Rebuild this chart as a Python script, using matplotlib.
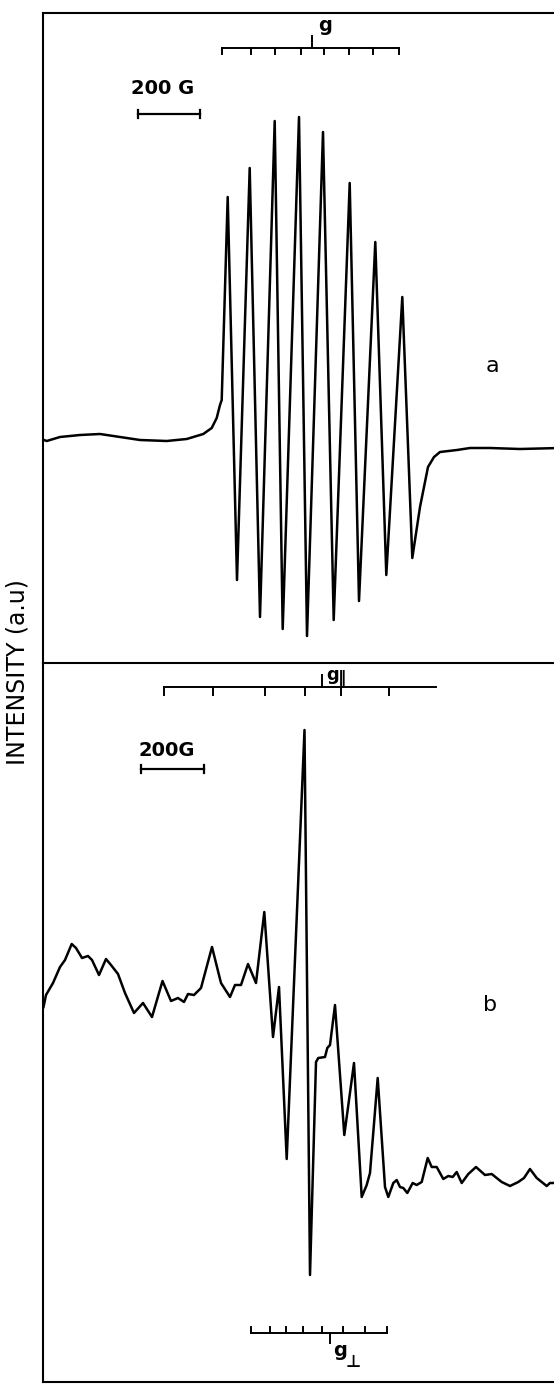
import numpy as np
import matplotlib
matplotlib.use('Agg')
import matplotlib.pyplot as plt

# ESR spectra, field in arbitrary units, intensity in a.u.
field_a = [44, 46.7, 60, 80, 100, 120, 140, 166.7, 186.7, 203.3, 211.7, 216.7, 220, 221.7,
           227.7, 237, 249.7, 260, 274.7, 282.7, 299, 307, 323, 333.7, 349.7, 359,
           375.3, 386.3, 402.3, 412.3, 420, 428, 434, 440, 457, 470, 490, 520, 560]
int_a = [0, -1, 3, 5, 6, 3, 0, -1, 1, 6, 12, 22, 35, 40,
         243, -140, 272, -177, 319, -189, 323, -196, 308, -180, 257, -161,
         198, -135, 143, -118, -67, -27, -17, -12, -10, -8, -8, -9, -8]

field_b = [43.5, 46, 53, 60, 65, 71.7, 76, 82, 88, 92, 99, 106, 111, 118, 125, 134,
           143, 152, 162.5, 171, 178, 184, 188, 194, 201, 212, 221, 230, 235, 241,
           248, 256, 264.3, 273, 279, 286.7, 304.5, 310, 316, 318.3, 325, 327.3, 330,
           335, 344.3, 354, 361.7, 366.7, 370, 377.7, 385, 388.3, 393.3, 396.7,
           400, 403.3, 407.3, 412.7, 416.7, 421.7, 427.7, 431.7, 436.7, 443.3, 448.3,
           452.7, 456.7, 461.7, 468.3, 476, 485, 491.7, 501.7, 510, 518.3, 524, 530,
           536.7, 546.7, 550, 560]
int_b = [-7, 5, 17, 33, 40, 56, 52, 42, 44, 40, 25, 41, 35, 26, 7, -13,
         -3, -17, 19, -1, 2, -2, 6, 5, 12, 53, 17, 3, 15, 15,
         36, 17, 88, -37, 13, -159, 270, -275, -62, -58, -57, -48, -45,
         -5, -135, -63, -197, -185, -173, -78, -187, -197, -183, -180,
         -187, -188, -193, -183, -185, -182, -158, -167, -167, -179, -176,
         -177, -172, -183, -174, -167, -175, -174, -182, -186, -182, -178, -169,
         -178, -186, -183, -183]

# g-value marker scales
g_ticks_a = [222, 251, 275, 301, 324, 349, 373, 399]
g_mark_a = 311.7
gpar_ticks_b = [163.6, 213.4, 265, 305.3, 341.3, 389.4]
gpar_end_b = 435.7
gpar_mark_b = 321.6
gperp_ticks_b = [250.9, 270.3, 285.5, 303.2, 322.3, 342.8, 364.7, 386.9]
gperp_mark_b = 330.4

fig = plt.figure(figsize=(5.54, 13.86), dpi=100)
ax_a = fig.add_axes([43/554, 1 - 663/1386, 517/554, 650/1386])
ax_b = fig.add_axes([43/554, 1 - 1382/1386, 517/554, 719/1386])

lw = 1.8
for ax in (ax_a, ax_b):
    ax.set_xlim(43, 560)
    ax.set_xticks([])
    ax.set_yticks([])
    ax.spines['right'].set_visible(False)
    for s in ('left', 'top', 'bottom'):
        ax.spines[s].set_linewidth(1.5)
ax_a.spines['bottom'].set_visible(False)

ax_a.set_ylim(-223, 427)
ax_b.set_ylim(-382, 337)

ax_a.plot(field_a, int_a, color='black', lw=lw, solid_joinstyle='round')
ax_b.plot(field_b, int_b, color='black', lw=lw, solid_joinstyle='round')


def gscale(ax, ticks, y, tlen, mark, mlen, end=None):
    x1 = ticks[-1] if end is None else end
    ax.plot([ticks[0], x1], [y, y], color='black', lw=1.4)
    for t in ticks:
        ax.plot([t, t], [y, y + tlen], color='black', lw=1.4)
    ax.plot([mark, mark], [y, y + mlen], color='black', lw=1.4)


def bar200(ax, x0, x1, y, ty, label):
    ax.plot([x0, x1], [y, y], color='black', lw=1.6)
    ax.plot([x0, x0], [y - 4, y + 4], color='black', lw=1.6)
    ax.plot([x1, x1], [y - 4, y + 4], color='black', lw=1.6)
    ax.text((x0 + x1) / 2 - 6, ty, label, ha='center', va='center',
            fontsize=14, fontweight='bold')


gscale(ax_a, g_ticks_a, 392, -6, g_mark_a, 12)
ax_a.text(318, 414, 'g', ha='left', va='center', fontsize=14, fontweight='bold')
bar200(ax_a, 138, 200, 326, 351, '200 G')
ax_a.text(492, 74, 'a', ha='center', va='center', fontsize=16)

gscale(ax_b, gpar_ticks_b, 313, -8, gpar_mark_b, 12, end=gpar_end_b)
ax_b.text(326, 325, 'g', ha='left', va='center', fontsize=13, fontweight='bold')
ax_b.text(338, 321, '\u2016', ha='left', va='center', fontsize=12, fontweight='bold')
bar200(ax_b, 141, 204, 231, 250, '200G')
ax_b.text(490, -5, 'b', ha='center', va='center', fontsize=16)

gscale(ax_b, gperp_ticks_b, -333, 6, gperp_mark_b, -10)
ax_b.text(333, -351, 'g', ha='left', va='center', fontsize=14, fontweight='bold')
ax_b.text(346, -362, '\u22a5', ha='left', va='center', fontsize=12, fontweight='bold')

fig.text(18/554, 1 - 672/1386, 'INTENSITY (a.u)', rotation=90, ha='center',
         va='center', fontsize=17)

fig.savefig('out.png', dpi=100)
